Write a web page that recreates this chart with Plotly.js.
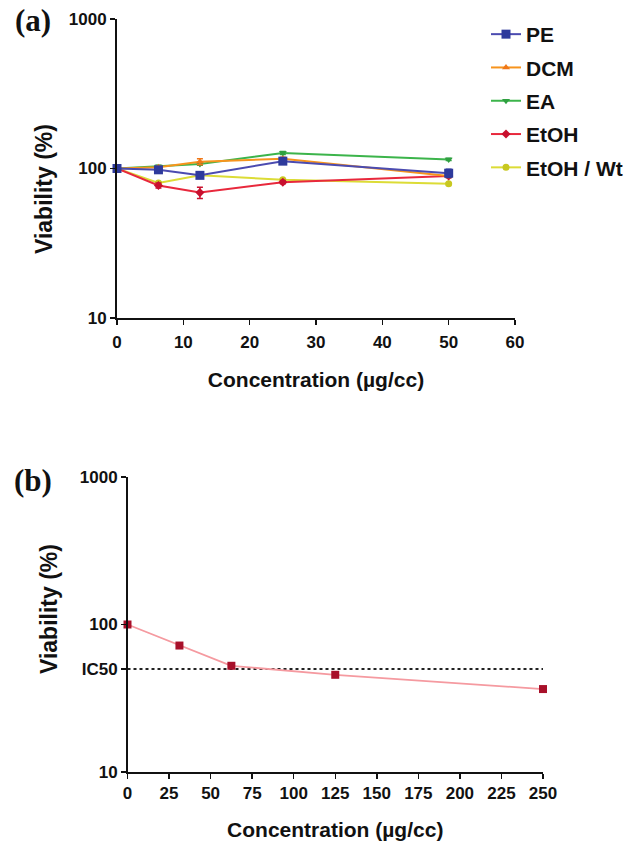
<!DOCTYPE html>
<html>
<head>
<meta charset="utf-8">
<script src="https://cdn.plot.ly/plotly-3.0.1.min.js"></script>
<style>html,body{margin:0;padding:0;background:#fff;}#chart{width:636px;height:841px;}</style>
</head>
<body>
<div id="chart"></div>
<script>
// Panel (a) data
const concA = [0, 6.25, 12.5, 25, 50];
const seriesNames = ["PE", "DCM", "EA", "EtOH", "EtOH / Wt"];
const vPE    = [100, 98, 90, 112, 93];
const vDCM   = [100, 102, 111, 116, 89];
const vEA    = [100, 103, 107, 127, 115];
const vEtOH  = [100, 77, 69, 81, 89];
const vEtOHW = [100, 80, 90, 84, 79];
const errPE    = [0, 2, 3, 4, 6];
const errDCM   = [0, 2, 5, 3, 2];
const errEA    = [0, 2, 2, 3, 2];
const errEtOH  = [0, 3, 6, 2, 2];
const errEtOHW = [0, 1, 1, 1, 1];
// Panel (b) data
const concB = [0, 31.25, 62.5, 125, 250];
const vB = [100, 72, 52.5, 45.6, 36.5];
const ic50 = 50;
const ic50X = [0, 250];
const yTickValsB = [10, 50, 100, 1000];
const yTickTextB = ["10", "IC50", "100", "1000"];
const xTicksA = [0, 10, 20, 30, 40, 50, 60];
const xTicksB = [0, 25, 50, 75, 100, 125, 150, 175, 200, 225, 250];

const W = 636, H = 841;
const FONT = "Arial, 'Liberation Sans', sans-serif";
const bold = (size, color) => ({family: FONT, size: size, color: color || "#111", weight: "bold"});

const colorsLine = ["#4b4bb0", "#f7941d", "#3cb44b", "#e8283c", "#dcdc36"];
const colorsMarker = ["#2e3a9c", "#f07818", "#2fa040", "#c8102e", "#c8c820"];
const symbols = ["square", "triangle-up", "triangle-down", "diamond", "circle"];
const sizes = [9, 7, 7, 7, 7];
const valsA = [vPE, vDCM, vEA, vEtOH, vEtOHW];
const errsA = [errPE, errDCM, errEA, errEtOH, errEtOHW];

const traces = [];
// drawn in reverse so PE ends up on top; legend order kept by legendrank
for (let i = 4; i >= 0; i--) {
  traces.push({
    x: concA, y: valsA[i], name: seriesNames[i], type: "scatter", mode: "lines+markers",
    xaxis: "x", yaxis: "y", legendgroup: "g" + i, legendrank: i + 1,
    line: {color: colorsLine[i], width: 2},
    marker: {symbol: symbols[i], size: sizes[i], color: colorsMarker[i]},
    error_y: {type: "data", array: errsA[i], visible: true, color: colorsMarker[i], thickness: 1.5, width: 3},
    cliponaxis: false
  });
}
traces.push({
  x: ic50X, y: [ic50, ic50], type: "scatter", mode: "lines", showlegend: false,
  xaxis: "x2", yaxis: "y2", line: {color: "#222", width: 2, dash: "dot"}, hoverinfo: "skip"
});
traces.push({
  x: concB, y: vB, type: "scatter", mode: "lines+markers", showlegend: false,
  xaxis: "x2", yaxis: "y2", name: "Viability",
  line: {color: "#f59aa0", width: 1.8},
  marker: {symbol: "square", size: 8, color: "#a8102a"},
  cliponaxis: false
});

const px = v => v / W;
const py = v => 1 - v / H;

const axisCommon = {
  showgrid: false, zeroline: false, showline: true, linecolor: "#111",
  ticks: "outside", tickcolor: "#111", ticklen: 5, tickwidth: 1.5,
  tickfont: bold(17), automargin: false, fixedrange: true
};

const layout = {
  width: W, height: H,
  margin: {l: 0, r: 0, t: 0, b: 0},
  paper_bgcolor: "#fff", plot_bgcolor: "#fff",
  showlegend: true,
  legend: {
    x: px(486), y: py(14), xanchor: "left", yanchor: "top",
    font: bold(21), bgcolor: "rgba(0,0,0,0)", tracegroupgap: 3,
    traceorder: "grouped", itemwidth: 30
  },
  xaxis: Object.assign({}, axisCommon, {
    domain: [px(117), px(515)], range: [0, 60], anchor: "y",
    tickvals: xTicksA, linewidth: 2, ticklabelstandoff: 3,
    title: {text: "Concentration (µg/cc)", font: bold(21), standoff: 21}
  }),
  yaxis: Object.assign({}, axisCommon, {
    domain: [py(318), py(19)], type: "log", range: [1, 3], anchor: "x",
    tickvals: [10, 100, 1000], ticktext: ["10", "100", "1000"], linewidth: 2
  }),
  xaxis2: Object.assign({}, axisCommon, {
    domain: [px(127.5), px(543)], range: [0, 250], anchor: "y2",
    tickvals: xTicksB, linewidth: 1.5,
    title: {text: "Concentration (µg/cc)", font: bold(21), standoff: 20}
  }),
  yaxis2: Object.assign({}, axisCommon, {
    domain: [py(772), py(477)], type: "log", range: [1, 3], anchor: "x2",
    tickvals: yTickValsB, ticktext: yTickTextB, linewidth: 1.5
  }),
  annotations: [
    {text: "(a)", x: px(33), y: py(21), xref: "paper", yref: "paper", showarrow: false,
     xanchor: "center", yanchor: "middle",
     font: {family: "'Times New Roman', 'Liberation Serif', serif", size: 31, color: "#111", weight: "bold"}},
    {text: "(b)", x: px(33), y: py(480), xref: "paper", yref: "paper", showarrow: false,
     xanchor: "center", yanchor: "middle",
     font: {family: "'Times New Roman', 'Liberation Serif', serif", size: 31, color: "#111", weight: "bold"}},
    {text: "Viability (%)", x: px(44), y: py(189), xref: "paper", yref: "paper", showarrow: false,
     xanchor: "center", yanchor: "middle", textangle: -90, font: bold(23)},
    {text: "Viability (%)", x: px(49), y: py(609), xref: "paper", yref: "paper", showarrow: false,
     xanchor: "center", yanchor: "middle", textangle: -90, font: bold(23)}
  ]
};

Plotly.newPlot("chart", traces, layout, {displayModeBar: false, staticPlot: true});
</script>
</body>
</html>
